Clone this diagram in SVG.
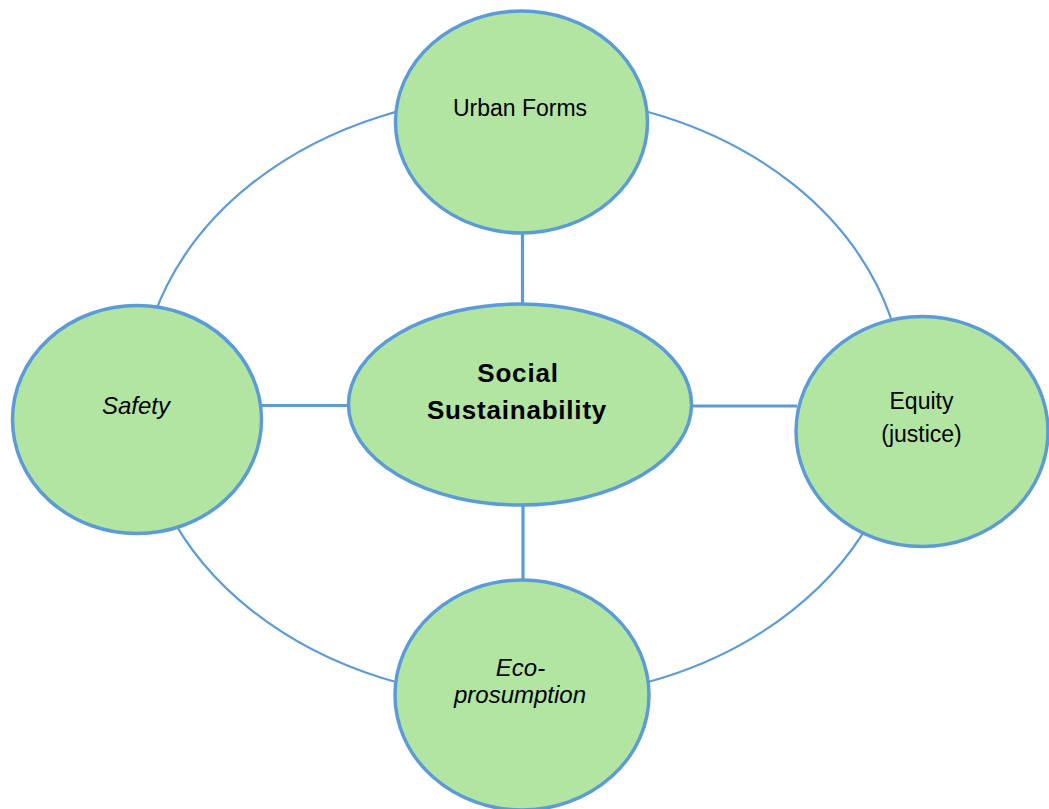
<svg xmlns="http://www.w3.org/2000/svg" width="1049" height="809" viewBox="0 0 1049 809">
  <style>
    .node { fill: #B3E5A2; stroke: #5B9BD8; stroke-width: 3.5; }
    .link { stroke: #5B9BD8; stroke-width: 3.2; fill: none; }
    .ring { stroke: #5B9BD8; stroke-width: 2.2; fill: none; }
    .lbl { font-family: "Liberation Sans", Arial, sans-serif; font-size: 23px; fill: #000; text-anchor: middle; }
    .it { font-style: italic; font-size: 24px; }
    .bold { font-weight: bold; font-size: 26px; letter-spacing: 0.8px; }
  </style>
  <rect width="1049" height="809" fill="#FFFFFF"/>

  <g id="connectors">
    <ellipse class="ring" cx="522" cy="397" rx="382" ry="302"/>
    <line class="link" x1="522.5" y1="232" x2="522.5" y2="306"/>
    <line class="link" x1="523" y1="504" x2="523" y2="581"/>
    <line class="link" x1="260" y1="405.5" x2="350" y2="405.5"/>
    <line class="link" x1="690" y1="406" x2="797" y2="406"/>
  </g>

  <g id="urban-forms">
    <ellipse class="node" cx="521.5" cy="122" rx="126" ry="111"/>
    <text class="lbl" x="520" y="116">Urban Forms</text>
  </g>

  <g id="safety">
    <ellipse class="node" cx="137" cy="419.5" rx="124.5" ry="114"/>
    <text class="lbl it" x="136" y="414">Safety</text>
  </g>

  <g id="equity">
    <ellipse class="node" cx="922" cy="431.5" rx="126" ry="115"/>
    <text class="lbl" x="921.5" y="409">Equity</text>
    <text class="lbl" x="921.5" y="442">(justice)</text>
  </g>

  <g id="eco-prosumption">
    <ellipse class="node" cx="522" cy="695" rx="127" ry="115"/>
    <text class="lbl it" x="520.5" y="676">Eco-</text>
    <text class="lbl it" x="520" y="703">prosumption</text>
  </g>

  <g id="social-sustainability">
    <ellipse class="node" cx="520" cy="404.5" rx="171.5" ry="100.5"/>
    <text class="lbl bold" x="518" y="382">Social</text>
    <text class="lbl bold" x="517" y="419">Sustainability</text>
  </g>
</svg>
